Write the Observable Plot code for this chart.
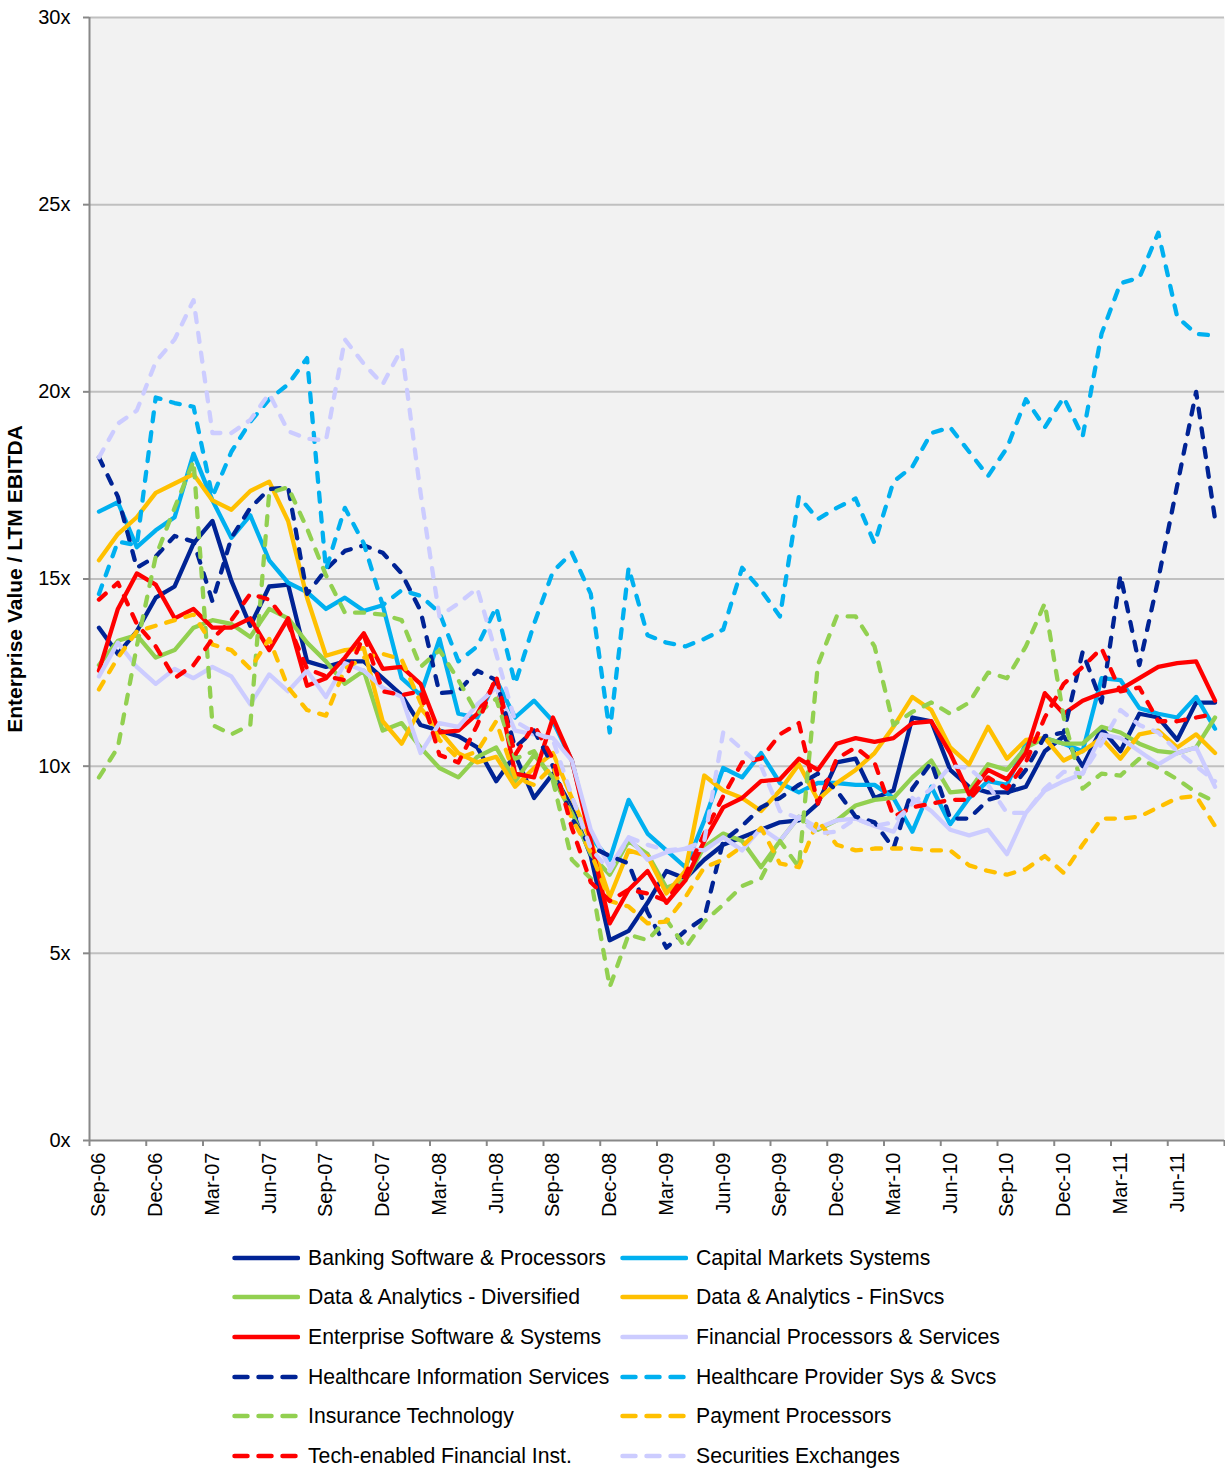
<!DOCTYPE html>
<html><head><meta charset="utf-8">
<script src="https://cdn.jsdelivr.net/npm/d3@7"></script>
<script src="https://cdn.jsdelivr.net/npm/@observablehq/plot@0.6"></script>
<style>
body{margin:0;background:#fff;font-family:"Liberation Sans",Arial,sans-serif;}
#legend{display:grid;grid-template-columns:388px 420px;margin-left:232px;padding-top:6px;}
.item{display:flex;align-items:center;height:39.6px;font-size:21.2px;color:#000;white-space:nowrap;}
.item svg{margin-right:8px;flex:none;}
</style></head><body>
<div id="chart"></div><div id="legend"></div>
<script>
const months = ["Sep-06","Oct-06","Nov-06","Dec-06","Jan-07","Feb-07","Mar-07","Apr-07","May-07","Jun-07","Jul-07","Aug-07",
"Sep-07","Oct-07","Nov-07","Dec-07","Jan-08","Feb-08","Mar-08","Apr-08","May-08","Jun-08","Jul-08","Aug-08",
"Sep-08","Oct-08","Nov-08","Dec-08","Jan-09","Feb-09","Mar-09","Apr-09","May-09","Jun-09","Jul-09","Aug-09",
"Sep-09","Oct-09","Nov-09","Dec-09","Jan-10","Feb-10","Mar-10","Apr-10","May-10","Jun-10","Jul-10","Aug-10",
"Sep-10","Oct-10","Nov-10","Dec-10","Jan-11","Feb-11","Mar-11","Apr-11","May-11","Jun-11","Jul-11","Aug-11"];
const yTicks = [0,5,10,15,20,25,30];
const yTitle = "Enterprise Value / LTM EBITDA";

const banking = [13.7,13.0,13.6,14.5,14.8,15.95,16.55,14.95,13.75,14.8,14.85,12.8,12.65,12.8,12.8,12.35,11.9,11.1,10.95,10.8,10.5,9.6,10.3,9.15,9.8,8.9,7.6,5.35,5.6,6.35,7.2,7.0,7.5,7.9,8.1,8.3,8.5,8.55,9.0,10.1,10.2,9.15,9.35,11.3,11.2,9.9,9.45,9.3,9.3,9.45,10.4,10.8,10.0,11.0,10.4,11.4,11.3,10.7,11.7,11.7];
const capital = [16.8,17.05,15.85,16.3,16.65,18.35,17.1,16.1,16.7,15.5,14.9,14.65,14.2,14.5,14.15,14.3,12.35,11.9,13.4,11.4,11.3,12.3,11.3,11.75,11.2,10.15,8.1,7.5,9.1,8.2,7.75,7.3,8.55,9.95,9.7,10.35,9.55,9.3,9.55,9.55,9.5,9.5,9.15,8.25,9.45,8.45,9.15,9.6,9.5,10.6,10.75,10.6,10.4,12.35,12.3,11.55,11.4,11.3,11.85,11.0];
const diversified = [12.7,13.35,13.5,12.9,13.1,13.7,13.9,13.8,13.45,14.2,13.95,13.3,12.8,12.2,12.55,10.95,11.15,10.5,9.95,9.7,10.25,10.5,9.6,10.3,9.7,8.75,7.65,7.1,8.0,7.65,6.75,6.95,7.85,8.2,8.0,7.3,8.0,8.65,8.3,8.55,8.95,9.1,9.15,9.7,10.15,9.3,9.35,10.05,9.9,10.5,10.75,10.6,10.6,11.05,10.9,10.6,10.4,10.35,10.5,11.3];
const finsvcs = [15.5,16.2,16.65,17.3,17.55,17.8,17.1,16.85,17.35,17.6,16.55,14.5,12.95,13.1,13.15,11.2,10.6,11.55,10.95,10.35,10.1,10.25,9.45,9.95,10.35,9.15,8.0,6.5,7.75,7.6,6.6,7.2,9.75,9.35,9.15,8.8,9.35,10.05,9.1,9.55,9.9,10.35,11.05,11.85,11.5,10.5,10.05,11.05,10.2,10.7,10.75,10.15,10.4,10.75,10.2,10.85,10.95,10.5,10.85,10.35];
const enterprise = [12.55,14.2,15.15,14.85,13.95,14.2,13.7,13.7,13.95,13.1,13.95,12.15,12.35,12.9,13.55,12.6,12.65,12.2,10.9,10.95,11.4,12.3,9.8,9.7,11.3,10.15,8.0,5.8,6.7,7.2,6.35,6.95,8.0,8.9,9.15,9.6,9.65,10.2,9.9,10.6,10.75,10.65,10.75,11.15,11.2,10.35,9.25,9.9,9.65,10.35,11.95,11.4,11.75,11.95,12.05,12.35,12.65,12.75,12.8,11.75];
const finproc = [12.4,13.3,12.65,12.2,12.6,12.35,12.65,12.4,11.65,12.45,12.0,12.55,11.85,12.75,12.55,12.1,11.85,10.35,11.15,11.05,11.65,12.1,10.95,10.85,10.75,10.15,8.3,7.3,8.1,7.5,7.7,7.8,7.75,8.1,7.75,8.35,8.0,8.65,8.35,8.55,8.6,8.4,8.25,9.15,8.8,8.3,8.15,8.3,7.65,8.75,9.35,9.6,9.8,10.85,10.75,10.4,10.05,10.35,10.5,9.45];
const hcInfo = [18.25,17.2,15.3,15.6,16.15,16.0,14.4,16.1,16.9,17.4,17.45,14.6,15.25,15.75,15.9,15.7,15.15,14.15,11.95,12.0,12.55,12.3,10.5,10.95,10.0,8.6,7.85,7.6,7.4,6.1,5.15,5.6,5.95,8.0,8.4,8.9,9.15,9.5,9.8,9.35,8.65,8.5,7.8,9.4,10.1,8.6,8.6,9.1,9.25,9.9,10.8,10.9,13.05,11.7,15.1,12.7,15.0,17.5,20.0,16.6];
const hcProvider = [14.6,16.0,15.9,19.85,19.7,19.6,17.2,18.4,19.2,19.8,20.2,20.9,15.25,16.9,15.95,14.3,14.7,14.55,14.1,12.8,13.2,14.25,12.2,13.8,15.2,15.7,14.6,10.9,15.3,13.5,13.3,13.2,13.4,13.65,15.3,14.7,14.0,17.2,16.6,16.9,17.15,15.95,17.6,18.0,18.9,19.05,18.4,17.75,18.5,19.8,19.05,19.85,18.8,21.55,22.9,23.05,24.25,22.0,21.55,21.5];
const insurance = [9.7,10.5,13.2,15.6,16.9,18.15,11.1,10.85,11.1,17.3,17.45,16.35,15.1,14.1,14.1,14.05,13.9,12.65,13.1,12.3,11.4,11.8,10.2,10.4,9.6,7.5,7.0,4.1,5.5,5.35,5.9,5.15,5.85,6.3,6.8,7.0,8.0,7.3,12.7,14.0,14.0,13.2,11.1,11.45,11.7,11.4,11.7,12.5,12.35,13.2,14.35,11.3,9.4,9.8,9.75,10.2,9.95,9.65,9.3,9.05];
const payment = [12.05,12.9,13.6,13.75,13.9,14.05,13.25,13.1,12.6,13.4,12.1,11.5,11.35,12.6,12.9,13.0,12.85,11.7,10.7,10.2,10.4,11.2,9.7,9.5,10.0,8.6,7.7,6.4,6.25,5.8,5.85,6.5,7.3,7.5,7.85,8.35,7.4,7.3,8.55,7.9,7.75,7.8,7.8,7.8,7.75,7.75,7.35,7.2,7.1,7.25,7.6,7.15,7.9,8.6,8.6,8.65,8.9,9.15,9.2,8.4];
const techFin = [14.45,14.9,13.8,13.2,12.35,12.7,13.4,13.9,14.6,14.45,13.8,12.6,12.4,12.3,13.5,12.0,11.9,12.0,10.3,10.1,11.1,12.4,10.3,11.1,10.2,8.35,6.9,6.4,6.7,6.6,6.4,7.1,8.2,9.2,10.1,10.2,10.85,11.15,9.0,10.2,10.5,10.1,8.65,8.9,9.0,9.1,9.1,9.7,9.4,10.1,11.3,12.2,12.65,13.15,12.0,12.1,11.2,11.2,11.3,11.4];
const securities = [18.25,19.15,19.5,20.8,21.4,22.45,18.9,18.9,19.25,19.95,18.95,18.75,18.7,21.4,20.75,20.2,21.15,17.3,14.0,14.35,14.75,13.0,11.2,10.9,10.7,9.2,7.8,7.2,8.1,7.9,7.75,7.8,8.0,10.9,10.45,10.0,8.8,8.6,8.2,8.25,8.6,8.4,8.5,9.0,9.4,10.0,9.95,9.5,8.75,8.75,9.4,9.85,9.8,10.6,11.5,11.1,10.9,10.4,10.0,9.6];

const seriesNames = ["Banking Software & Processors","Capital Markets Systems","Data & Analytics - Diversified","Data & Analytics - FinSvcs",
"Enterprise Software & Systems","Financial Processors & Services","Healthcare Information Services","Healthcare Provider Sys & Svcs",
"Insurance Technology","Payment Processors","Tech-enabled Financial Inst.","Securities Exchanges"];
const seriesValues = [banking,capital,diversified,finsvcs,enterprise,finproc,hcInfo,hcProvider,insurance,payment,techFin,securities];
const seriesColors = ["#002395","#00B0F0","#92D050","#FFC000","#FF0000","#CCCCFF","#002395","#00B0F0","#92D050","#FFC000","#FF0000","#CCCCFF"];
const seriesDashed = [false,false,false,false,false,false,true,true,true,true,true,true];

const DASH = "9,11";
const LEGEND_DASH = "13,11";
const labelIdx = d3.range(0, 60, 3);
const boundaries = d3.range(-0.5, 60, 3);

const lineMarks = seriesValues.map((vals, k) => Plot.lineY(vals, {
  x: (d, i) => i, y: d => d,
  stroke: seriesColors[k], strokeWidth: 4.3,
  strokeDasharray: seriesDashed[k] ? DASH : null,
  strokeLinecap: "round", strokeLinejoin: "round"
}));

const chart = Plot.plot({
  width: 1225, height: 1232,
  marginLeft: 89, marginRight: 1, marginTop: 17, marginBottom: 92,
  style: {fontFamily: "'Liberation Sans', Arial, sans-serif", background: "#fff", color: "#000"},
  x: {domain: [-0.5, 59.5]},
  y: {domain: [0, 30]},
  marks: [
    Plot.frame({fill: "#f2f2f2", stroke: null}),
    Plot.gridY(yTicks.filter(d => d > 0), {stroke: "#c0c0c0", strokeOpacity: 1, strokeWidth: 2}),
    Plot.ruleX([-0.5], {stroke: "#888888", strokeWidth: 2}),
    Plot.ruleY([0], {stroke: "#888888", strokeWidth: 2}),
    Plot.axisY({ticks: yTicks, tickFormat: d => d + "x", tickSize: 6, tickPadding: 13, fontSize: 20, stroke: "#888888", strokeWidth: 2, label: null}),
    Plot.axisX({ticks: boundaries, tickSize: 6, tickFormat: () => "", stroke: "#888888", strokeWidth: 2, label: null}),
    Plot.axisX({ticks: labelIdx, tickSize: 0, tickPadding: 12, tickFormat: i => months[i], tickRotate: -90,
      textAnchor: "end", lineAnchor: "middle", fontSize: 20, label: null}),
    ...lineMarks,
    Plot.text([yTitle], {frameAnchor: "left", dx: -74, rotate: -90, textAnchor: "middle", lineAnchor: "middle",
      fontSize: 21, fontWeight: "bold", text: d => d})
  ]
});
document.getElementById("chart").appendChild(chart);

const legend = document.getElementById("legend");
seriesNames.forEach((name, k) => {
  const item = document.createElement("div");
  item.className = "item";
  const dash = seriesDashed[k] ? `stroke-dasharray="${LEGEND_DASH}"` : "";
  item.innerHTML = `<svg width="68" height="12"><line x1="2.5" y1="6" x2="66" y2="6" stroke="${seriesColors[k]}" stroke-width="4.5" stroke-linecap="round" ${dash}/></svg><span>${name.replace(/&/g,"&amp;")}</span>`;
  legend.appendChild(item);
});
</script></body></html>
